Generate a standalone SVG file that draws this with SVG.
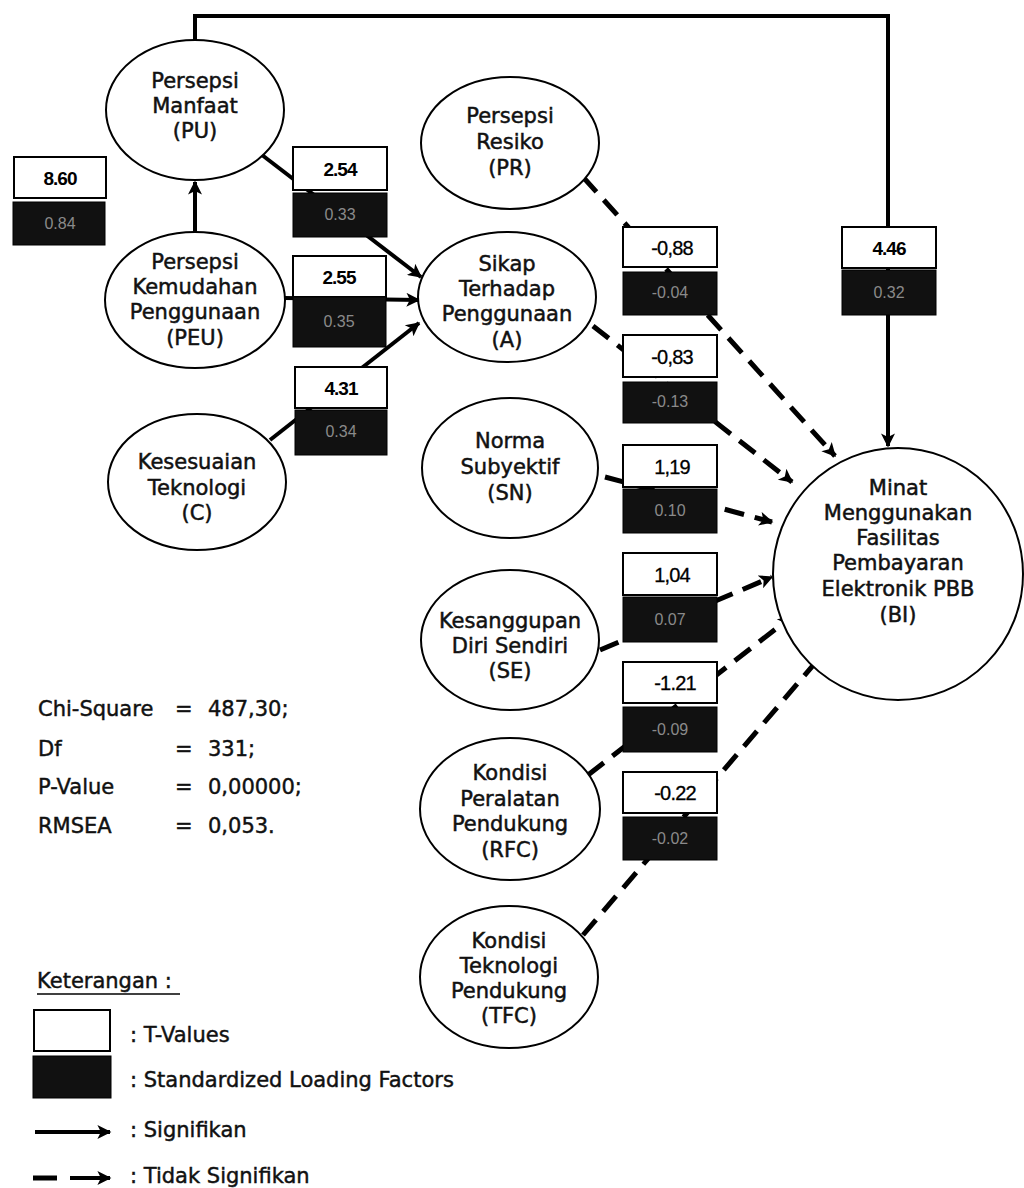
<svg xmlns="http://www.w3.org/2000/svg" width="1024" height="1188" viewBox="0 0 1024 1188">
<defs>
<style>
.node ellipse{fill:#fff;stroke:#000;stroke-width:2}
.nt{font-family:"DejaVu Sans",Verdana,sans-serif;font-size:21px;fill:#111;stroke:#111;stroke-width:0.5;text-anchor:middle}
.tv{fill:#fff;stroke:#000;stroke-width:2}
.sl{fill:#111;stroke:#000;stroke-width:1}
.tvt{font-family:"Liberation Sans",Arial,sans-serif;font-size:19px;font-weight:bold;fill:#000;text-anchor:middle;letter-spacing:-1px}
.tvn{font-family:"Liberation Sans",Arial,sans-serif;font-size:20px;fill:#000;stroke:#000;stroke-width:0.3;text-anchor:middle;letter-spacing:-0.8px}
.slt{font-family:"Liberation Sans",Arial,sans-serif;font-size:16px;fill:#8a8a8a;text-anchor:middle}
.sig{fill:none;stroke:#000;stroke-width:4}
.ns{fill:none;stroke:#000;stroke-width:5;stroke-dasharray:20 11}
.lg{font-family:"DejaVu Sans",Verdana,sans-serif;font-size:21px;fill:#111;stroke:#111;stroke-width:0.45}
</style>
<marker id="ah" viewBox="0 0 10 10" refX="9" refY="5" markerUnits="userSpaceOnUse" markerWidth="18" markerHeight="14" orient="auto">
<path d="M0,0 L10,5 L0,10 L2.5,5 Z" fill="#000"/>
</marker>
</defs>
<rect width="1024" height="1188" fill="#fff"/>

<g id="connectors">
<path class="sig" d="M195,40 V16 H888 V446" stroke-width="3.5" marker-end="url(#ah)"/>
<path class="sig" d="M195,232 V182" marker-end="url(#ah)"/>
<path class="sig" d="M262,155 L421,277" marker-end="url(#ah)"/>
<path class="sig" d="M285,298 L419,300" marker-end="url(#ah)"/>
<path class="sig" d="M270,440 L419,323" marker-end="url(#ah)"/>
<path class="ns" d="M583,177 L835,456" marker-end="url(#ah)"/>
<path class="ns" d="M593,326 L792,482" marker-end="url(#ah)"/>
<path class="ns" d="M605,477 L772,522" marker-end="url(#ah)"/>
<path class="ns" d="M600,650 L772,577" marker-end="url(#ah)"/>
<path class="ns" d="M588,775 L791,617" marker-end="url(#ah)"/>
<path class="ns" d="M583,935 L827,649" marker-end="url(#ah)"/>
</g>

<g id="values">
<rect class="tv" x="14" y="157" width="92" height="41"/><rect class="sl" x="13" y="202" width="92" height="43"/>
<text class="tvt" x="60" y="185">8.60</text><text class="slt" x="60" y="229">0.84</text>
<rect class="tv" x="293" y="147" width="94" height="43"/><rect class="sl" x="293" y="193" width="94" height="44"/>
<text class="tvt" x="340" y="176">2.54</text><text class="slt" x="340" y="220">0.33</text>
<rect class="tv" x="293" y="256" width="93" height="41"/><rect class="sl" x="293" y="297" width="93" height="50"/>
<text class="tvt" x="339" y="284">2.55</text><text class="slt" x="339" y="327">0.35</text>
<rect class="tv" x="295" y="367" width="92" height="41"/><rect class="sl" x="295" y="410" width="92" height="45"/>
<text class="tvt" x="341" y="395">4.31</text><text class="slt" x="341" y="437">0.34</text>
<rect class="tv" x="842" y="227" width="94" height="41"/><rect class="sl" x="842" y="270" width="94" height="45"/>
<text class="tvt" x="889" y="255">4.46</text><text class="slt" x="889" y="298">0.32</text>
<rect class="tv" x="623" y="227" width="94" height="40"/><rect class="sl" x="623" y="272" width="94" height="43"/>
<text class="tvn" x="672" y="255">-0,88</text><text class="slt" x="670" y="298">-0.04</text>
<rect class="tv" x="623" y="335" width="94" height="42"/><rect class="sl" x="623" y="382" width="94" height="41"/>
<text class="tvn" x="672" y="364">-0,83</text><text class="slt" x="670" y="407">-0.13</text>
<rect class="tv" x="623" y="445" width="94" height="42"/><rect class="sl" x="623" y="489" width="94" height="44"/>
<text class="tvn" x="672" y="474">1,19</text><text class="slt" x="670" y="516">0.10</text>
<rect class="tv" x="623" y="553" width="94" height="42"/><rect class="sl" x="623" y="597" width="94" height="45"/>
<text class="tvn" x="672" y="582">1,04</text><text class="slt" x="670" y="625">0.07</text>
<rect class="tv" x="623" y="662" width="94" height="41"/><rect class="sl" x="623" y="707" width="94" height="45"/>
<text class="tvn" x="675" y="690">-1.21</text><text class="slt" x="670" y="735">-0.09</text>
<rect class="tv" x="623" y="772" width="94" height="41"/><rect class="sl" x="623" y="817" width="94" height="43"/>
<text class="tvn" x="675" y="800">-0.22</text><text class="slt" x="670" y="844">-0.02</text>
</g>

<g id="PU" class="node"><ellipse cx="195" cy="110" rx="89" ry="70"/>
<text class="nt" x="195" y="88">Persepsi</text><text class="nt" x="195" y="113">Manfaat</text><text class="nt" x="195" y="138">(PU)</text></g>
<g id="PEU" class="node"><ellipse cx="195" cy="300" rx="90" ry="68"/>
<text class="nt" x="195" y="269">Persepsi</text><text class="nt" x="195" y="294">Kemudahan</text><text class="nt" x="195" y="319">Penggunaan</text><text class="nt" x="195" y="345">(PEU)</text></g>
<g id="C" class="node"><ellipse cx="197" cy="482" rx="89" ry="68"/>
<text class="nt" x="197" y="469">Kesesuaian</text><text class="nt" x="197" y="495">Teknologi</text><text class="nt" x="197" y="520">(C)</text></g>
<g id="PR" class="node"><ellipse cx="510" cy="143" rx="89" ry="66"/>
<text class="nt" x="510" y="123">Persepsi</text><text class="nt" x="510" y="149">Resiko</text><text class="nt" x="510" y="175">(PR)</text></g>
<g id="A" class="node"><ellipse cx="507" cy="297" rx="89" ry="65"/>
<text class="nt" x="507" y="271">Sikap</text><text class="nt" x="507" y="296">Terhadap</text><text class="nt" x="507" y="321">Penggunaan</text><text class="nt" x="507" y="347">(A)</text></g>
<g id="SN" class="node"><ellipse cx="510" cy="468" rx="88" ry="70"/>
<text class="nt" x="510" y="448">Norma</text><text class="nt" x="510" y="474">Subyektif</text><text class="nt" x="510" y="500">(SN)</text></g>
<g id="SE" class="node"><ellipse cx="510" cy="640" rx="89" ry="70"/>
<text class="nt" x="510" y="628">Kesanggupan</text><text class="nt" x="510" y="653">Diri Sendiri</text><text class="nt" x="510" y="678">(SE)</text></g>
<g id="RFC" class="node"><ellipse cx="510" cy="809" rx="90" ry="71"/>
<text class="nt" x="510" y="780">Kondisi</text><text class="nt" x="510" y="806">Peralatan</text><text class="nt" x="510" y="831">Pendukung</text><text class="nt" x="510" y="857">(RFC)</text></g>
<g id="TFC" class="node"><ellipse cx="509" cy="977" rx="89" ry="71"/>
<text class="nt" x="509" y="948">Kondisi</text><text class="nt" x="509" y="973">Teknologi</text><text class="nt" x="509" y="998">Pendukung</text><text class="nt" x="509" y="1023">(TFC)</text></g>
<g id="BI" class="node"><ellipse cx="898" cy="574" rx="125" ry="126"/>
<text class="nt" x="898" y="495">Minat</text><text class="nt" x="898" y="520">Menggunakan</text><text class="nt" x="898" y="545">Fasilitas</text><text class="nt" x="898" y="570">Pembayaran</text><text class="nt" x="898" y="596">Elektronik PBB</text><text class="nt" x="898" y="622">(BI)</text></g>

<g id="fit">
<text class="lg" x="38" y="716">Chi-Square</text><text class="lg" x="175" y="716">=</text><text class="lg" x="208" y="716">487,30;</text>
<text class="lg" x="38" y="756">Df</text><text class="lg" x="175" y="756">=</text><text class="lg" x="208" y="756">331;</text>
<text class="lg" x="38" y="794">P-Value</text><text class="lg" x="175" y="794">=</text><text class="lg" x="208" y="794">0,00000;</text>
<text class="lg" x="38" y="833">RMSEA</text><text class="lg" x="175" y="833">=</text><text class="lg" x="208" y="833">0,053.</text>
</g>

<g id="legend">
<text class="lg" x="37" y="988" font-size="19">Keterangan :</text>
<line x1="37" y1="994" x2="180" y2="994" stroke="#000" stroke-width="1.5"/>
<rect class="tv" x="34" y="1010" width="76" height="41"/>
<text class="lg" x="130" y="1042">: T-Values</text>
<rect class="sl" x="33" y="1056" width="78" height="42"/>
<text class="lg" x="130" y="1087">: Standardized Loading Factors</text>
<path class="sig" d="M35,1132 H110" stroke-width="4" marker-end="url(#ah)"/>
<text class="lg" x="130" y="1137">: Signifikan</text>
<path d="M33,1178 H57" stroke="#000" stroke-width="5"/>
<path d="M70,1178 H110" stroke="#000" stroke-width="4" marker-end="url(#ah)"/>
<text class="lg" x="130" y="1183">: Tidak Signifikan</text>
</g>
</svg>
